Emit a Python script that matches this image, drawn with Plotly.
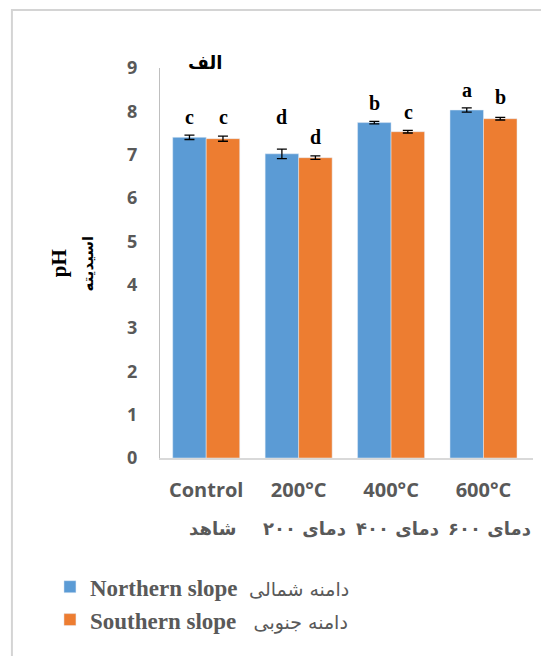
import plotly.graph_objects as go

categories = ["Control", "200°C", "400°C", "600°C"]
categories_fa = ["شاهد", "دمای ۲۰۰", "دمای ۴۰۰", "دمای ۶۰۰"]
north = [7.40, 7.02, 7.74, 8.03]
north_err = [0.05, 0.11, 0.03, 0.05]
south = [7.37, 6.93, 7.53, 7.83]
south_err = [0.06, 0.04, 0.03, 0.03]
north_letters = ["c", "d", "b", "a"]
south_letters = ["c", "d", "c", "b"]
north_letter_y = [7.86, 7.86, 8.20, 8.50]
south_letter_y = [7.86, 7.41, 7.99, 8.32]
y_ticks = [0, 1, 2, 3, 4, 5, 6, 7, 8, 9]

BLUE = "#5B9BD5"
ORANGE = "#ED7D31"
GREY = "#595959"

fa_span = '<span style="font-family:DejaVu Sans;font-weight:normal;font-size:19px">{}</span>'

fig = go.Figure()
fig.add_trace(go.Bar(
    x=categories, y=north, name="<b>Northern slope</b>  " + fa_span.format("دامنه شمالی"),
    marker=dict(color=BLUE),
    error_y=dict(type="data", array=north_err, color="black", thickness=1.3, width=5),
))
fig.add_trace(go.Bar(
    x=categories, y=south, name="<b>Southern slope</b>   " + fa_span.format("دامنه جنوبی"),
    marker=dict(color=ORANGE),
    error_y=dict(type="data", array=south_err, color="black", thickness=1.3, width=5),
))

annotations = []
for i, c in enumerate(categories):
    annotations.append(dict(x=c, y=north_letter_y[i], text="<b>%s</b>" % north_letters[i],
                            xref="x", yref="y", showarrow=False, xshift=-17,
                            xanchor="center", yanchor="middle",
                            font=dict(family="Liberation Serif", size=20, color="black")))
    annotations.append(dict(x=c, y=south_letter_y[i], text="<b>%s</b>" % south_letters[i],
                            xref="x", yref="y", showarrow=False, xshift=17,
                            xanchor="center", yanchor="middle",
                            font=dict(family="Liberation Serif", size=20, color="black")))
    annotations.append(dict(x=c, y=-0.18, text=categories_fa[i], xref="x", yref="paper",
                            showarrow=False, xshift=6, xanchor="center", yanchor="middle",
                            font=dict(family="DejaVu Sans", size=18, color=GREY, weight="bold")))

annotations.append(dict(x=0.12, y=1.015, xref="paper", yref="paper", text="<b>الف</b>",
                        xanchor="center", yanchor="middle",
                        showarrow=False, font=dict(family="DejaVu Sans", size=18, color="black")))
annotations.append(dict(x=-0.27, y=0.5, xref="paper", yref="paper", text="<b>pH</b>",
                        textangle=-90, showarrow=False, xanchor="center", yanchor="middle",
                        font=dict(family="Liberation Serif", size=21, color="black")))
annotations.append(dict(x=-0.192, y=0.5, xref="paper", yref="paper", text="<b>اسیدیته</b>",
                        textangle=-90, showarrow=False, xanchor="center", yanchor="middle",
                        font=dict(family="DejaVu Sans", size=15, color="black")))

fig.update_layout(
    width=541, height=656,
    margin=dict(l=160, r=8, t=68, b=198, autoexpand=False),
    paper_bgcolor="white", plot_bgcolor="white",
    barmode="group", bargap=0.275, bargroupgap=0,
    showlegend=True,
    legend=dict(x=-0.295, y=-0.275, xanchor="left", yanchor="top",
                orientation="v", bgcolor="rgba(0,0,0,0)", itemwidth=30,
                font=dict(family="Liberation Serif", size=23, color=GREY)),
    annotations=annotations,
    shapes=[dict(type="rect", xref="paper", yref="paper",
                 x0=-0.397, x1=1.2, y0=-0.8, y1=1.149,
                 line=dict(color="#d4d4d4", width=2), fillcolor="rgba(0,0,0,0)", layer="below")],
    xaxis=dict(showline=True, linecolor="#d9d9d9", linewidth=1.5, showgrid=False,
               ticks="", ticklabelstandoff=13, automargin=False,
               tickfont=dict(family="Open Sans", size=20, color=GREY, weight="bold")),
    yaxis=dict(range=[0, 9], tickvals=y_ticks, showline=True, linecolor="#bfbfbf",
               linewidth=1, showgrid=False, zeroline=False, ticks="", ticklabelstandoff=18,
               automargin=False,
               tickfont=dict(family="Open Sans", size=18, color=GREY, weight="bold")),
)

fig.write_html("out.html")
